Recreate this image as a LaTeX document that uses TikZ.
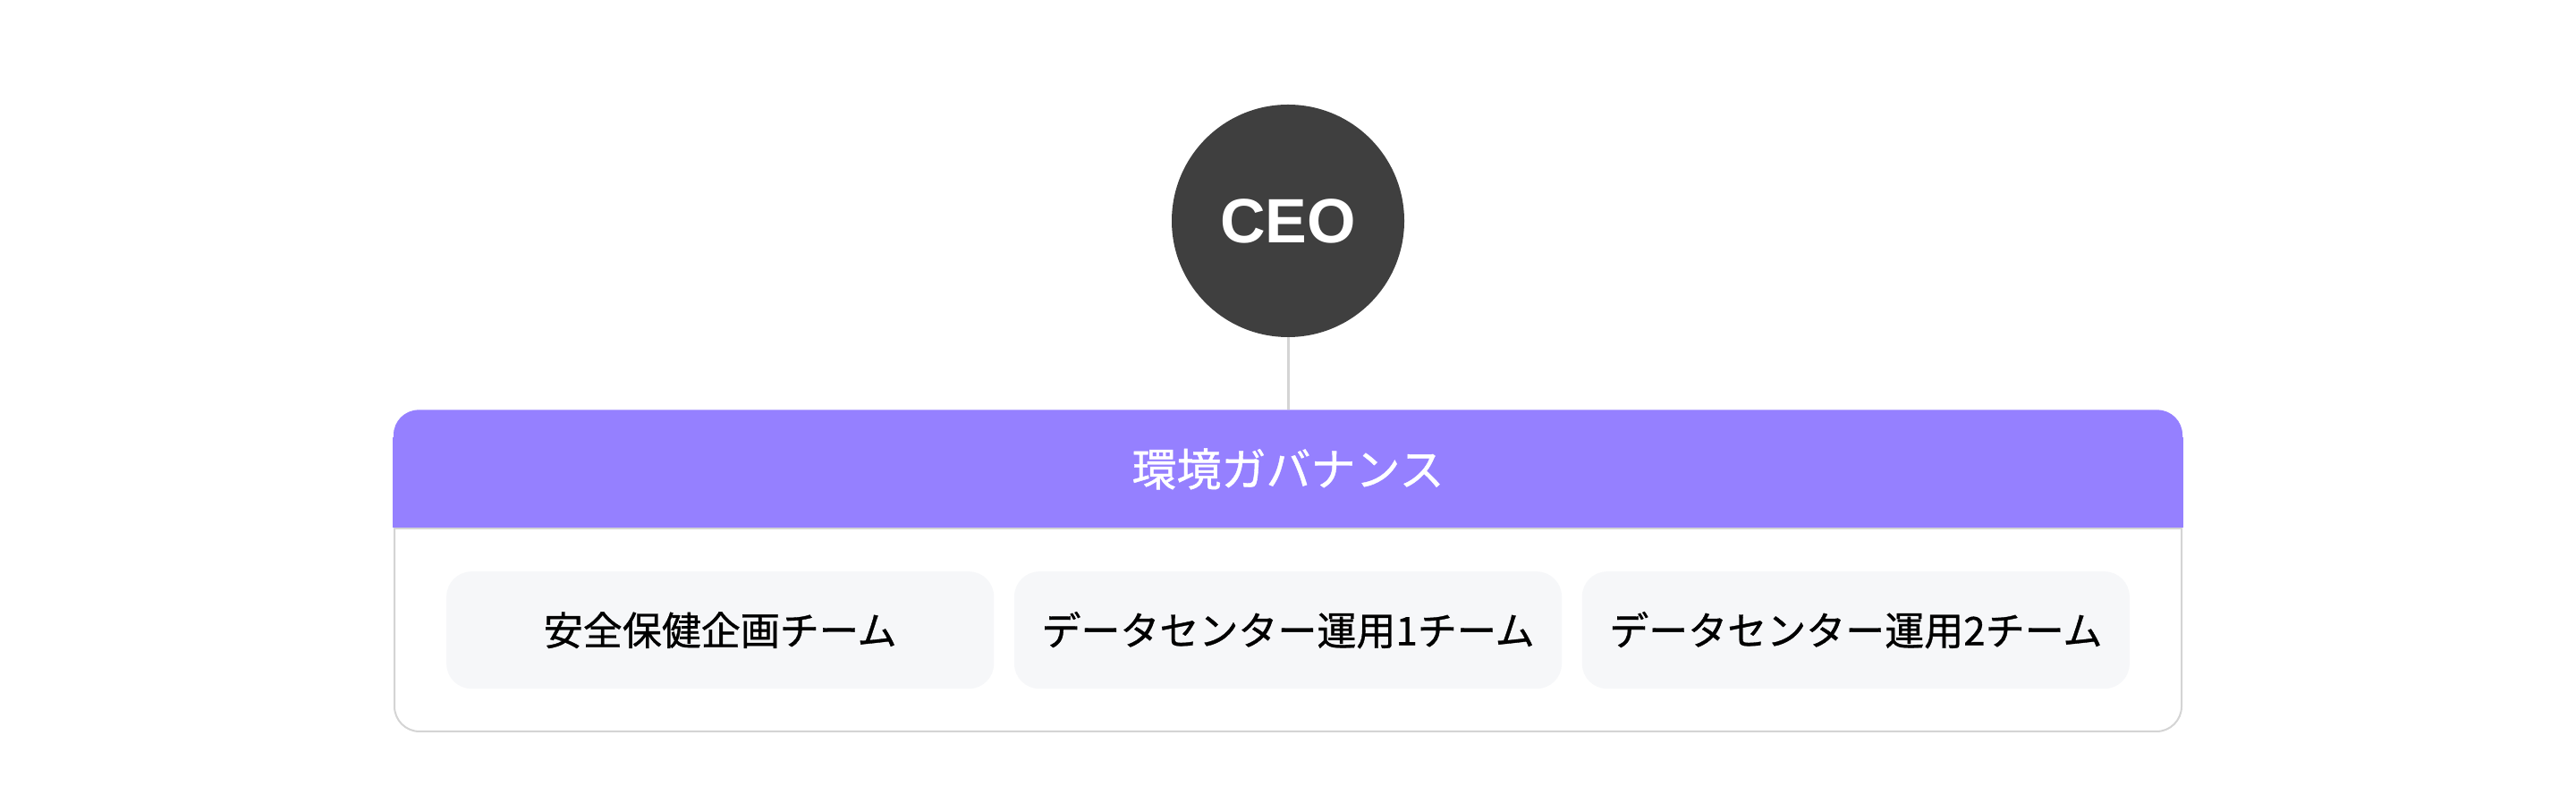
\documentclass[tikz,border=0pt]{standalone}
\usepackage{fontspec}
\setmainfont{Noto Sans}
\newfontfamily\jpfont{Noto Sans CJK JP}[FakeBold=0.8]
\newfontfamily\ceofont{Liberation Sans}
\usepackage{xcolor}
\usepackage{tikz}
\usetikzlibrary{positioning, calc}
\definecolor{CEOGray}{HTML}{3F3F3F}
\definecolor{GovPurple}{HTML}{9580FF}
\definecolor{TeamFill}{HTML}{F6F7F9}
\definecolor{EdgeGray}{HTML}{D4D4D4}
\tikzset{
    ceonode/.style={
        circle, fill=CEOGray, minimum size=130pt, inner sep=0pt,
        text=white, font=\ceofont\bfseries\fontsize{35}{40}\selectfont
    },
    teamnode/.style={
        rectangle, rounded corners=14pt, fill=TeamFill,
        minimum width=306pt, minimum height=65.5pt, inner sep=0pt,
        font=\jpfont\fontsize{22}{26}\selectfont
    },
    linkline/.style={
        EdgeGray, line width=1.5pt
    }
}
\begin{document}
\begin{tikzpicture}[
            x=1pt, y=1pt,
            % khung ngoài của nhóm
            panelnode/.style={
                rectangle, rounded corners=14pt,
                draw=EdgeGray, line width=1pt, fill=white,
                minimum width=999pt, minimum height=179pt, inner sep=0pt
            },
            % thanh tiêu đề màu tím
            headnode/.style={
                rectangle, rounded corners=14pt, fill=GovPurple,
                minimum width=1000pt, minimum height=66pt, inner sep=0pt,
                text=white, font=\jpfont\fontsize{25}{30}\selectfont
            }
        ]
            \useasboundingbox (0,0) rectangle (1440,449);

            % --- CEO ---
            \node[ceonode] (ceo) at (720,325.5) {CEO};

            % --- KHUNG NHÓM ---
            \node[panelnode] (panel) at (720,129.5) {};
            % góc dưới của thanh tiêu đề là góc vuông
            \fill[GovPurple] ($(panel.north west)+(-0.5,-65.5)$) rectangle ($(panel.north east)+(0.5,-15)$);
            \node[headnode, anchor=north] (head) at ([yshift=0.5pt]panel.north) {環境ガバナンス};
            \draw[EdgeGray, line width=1pt] (panel.west |- head.south) -- (panel.east |- head.south);

            % --- CÁC NHÓM CON ---
            \node[teamnode, below=24pt of head] (dc1) {データセンター運用1チーム};
            \node[teamnode, left=11pt of dc1] (safety) {安全保健企画チーム};
            \node[teamnode, right=11pt of dc1] (dc2) {データセンター運用2チーム};

            % --- ĐƯỜNG NỐI ---
            \draw[linkline] (ceo.south) -- (head.north);

        \end{tikzpicture}
\end{document}
